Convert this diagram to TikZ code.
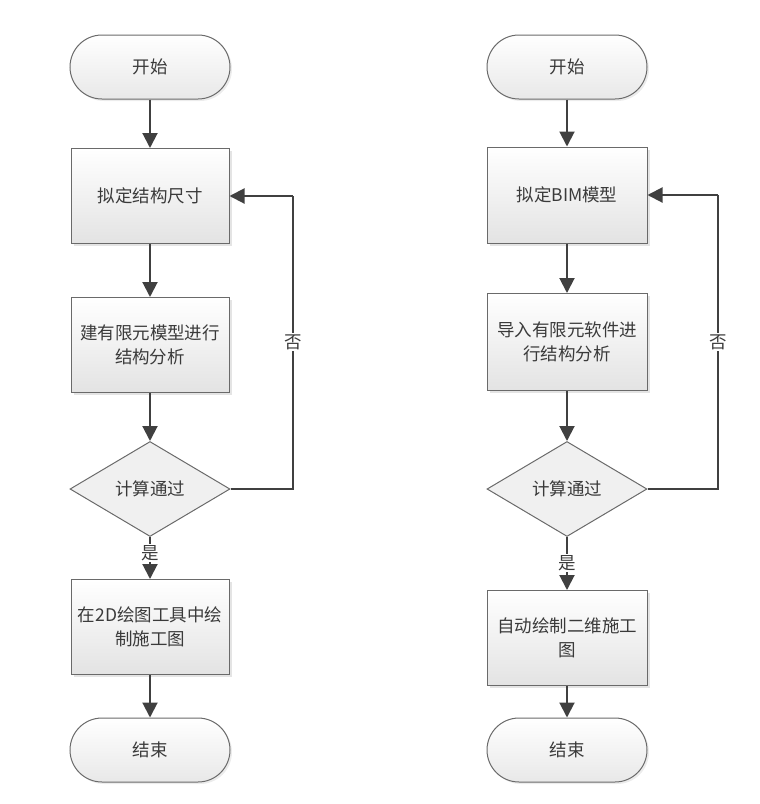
\documentclass[tikz,border=0pt]{standalone}
\usepackage{fontspec}
\newfontfamily\cjk{Noto Sans CJK SC}
\usetikzlibrary{arrows.meta,shapes.geometric,shadows}
\definecolor{ln}{HTML}{404040}
\definecolor{bd}{HTML}{6A6A6A}
\definecolor{tx}{HTML}{3A3A3A}
\tikzset{
  base/.style={draw=bd, line width=1pt, text=tx, font=\cjk\fontsize{17.5}{24}\selectfont, align=center, inner sep=0pt},
  procbox/.style={base, rectangle, minimum width=158pt, minimum height=95pt, top color=white, bottom color=gray!22,
    drop shadow={shadow xshift=2.5pt, shadow yshift=-2.5pt, fill=gray!35, opacity=0.6}},
  term/.style={base, rectangle, rounded corners=32pt, minimum width=160pt, minimum height=64pt, top color=white, bottom color=gray!18,
    drop shadow={shadow xshift=2pt, shadow yshift=-2pt, fill=gray!30, opacity=0.5}},
  decis/.style={base, diamond, minimum width=160pt, minimum height=95pt, fill=gray!12},
  flow/.style={draw=ln, line width=2pt, -{Triangle[width=15pt,length=15pt]}},
  fb/.style={draw=ln, line width=2pt},
  lbl/.style={fill=white, text=tx, font=\cjk\fontsize{17.5}{18}\selectfont, inner sep=1pt}
}
\begin{document}
\begin{tikzpicture}[x=1pt,y=-1pt]
\useasboundingbox (0,0) rectangle (760,804);
% left column
\node[term] (ls) at (150,67) {开始};
\node[procbox] (l1) at (150,196) {拟定结构尺寸};
\node[procbox] (l2) at (150,345) {建有限元模型进行\\结构分析};
\node[decis] (ld) at (150,489) {计算通过};
\node[procbox] (l3) at (150,627) {在2D绘图工具中绘\\制施工图};
\node[term] (le) at (150,750) {结束};
\coordinate (lc1) at (293,489);
\coordinate (lc2) at (293,196);
\draw[flow] (ls) -- (l1);
\draw[flow] (l1) -- (l2);
\draw[flow] (l2) -- (ld);
\draw[flow] (ld) -- (l3);
\draw[flow] (l3) -- (le);
\draw[fb] (ld.east) -- (lc1) -- (lc2);
\draw[flow] (lc2) -- (l1.east);
\node[lbl] (lno) at (293,342) {否};
\node[lbl] (lyes) at (150,553) {是};
% right column
\node[term] (rs) at (567,67) {开始};
\node[procbox, minimum width=160pt, minimum height=96pt] (r1) at (567,195) {拟定BIM模型};
\node[procbox, minimum width=160pt, minimum height=97pt] (r2) at (567,342) {导入有限元软件进\\行结构分析};
\node[decis] (rd) at (567,489) {计算通过};
\node[procbox, minimum width=160pt] (r3) at (567,638) {自动绘制二维施工\\图};
\node[term] (re) at (567,750) {结束};
\coordinate (rc1) at (718,489);
\coordinate (rc2) at (718,195);
\draw[flow] (rs) -- (r1);
\draw[flow] (r1) -- (r2);
\draw[flow] (r2) -- (rd);
\draw[flow] (rd) -- (r3);
\draw[flow] (r3) -- (re);
\draw[fb] (rd.east) -- (rc1) -- (rc2);
\draw[flow] (rc2) -- (r1.east);
\node[lbl] (rno) at (718,342) {否};
\node[lbl] (ryes) at (567,563) {是};
\end{tikzpicture}
\end{document}
